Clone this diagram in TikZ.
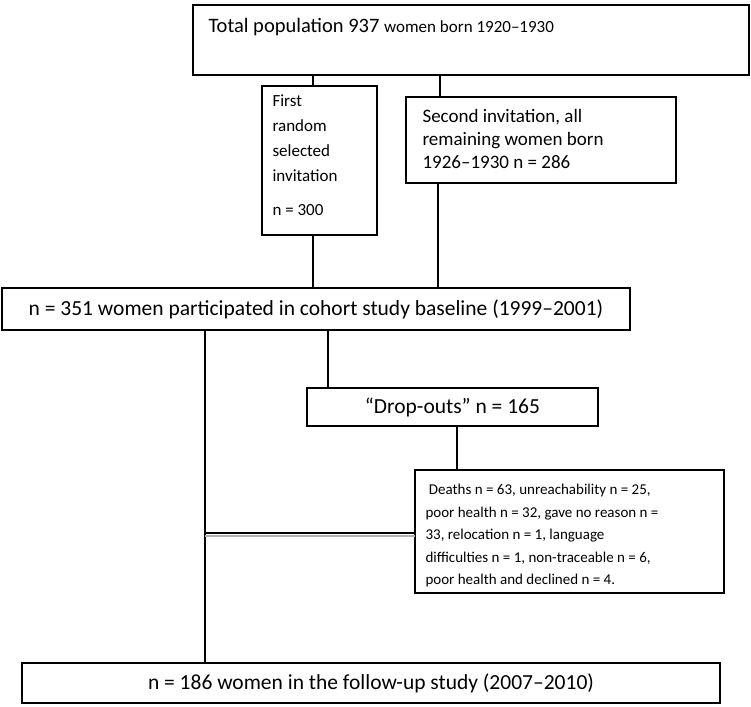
\documentclass[tikz,border=0pt]{standalone}
\usepackage{fontspec}
\setmainfont{Carlito}
\begin{document}
\begin{tikzpicture}[x=1pt,y=-1pt,
  bx/.style={draw,line width=1.3pt,inner sep=0pt,outer sep=0pt},
  ln/.style={line width=1.3pt}]
\useasboundingbox (0,0) rectangle (751,706);
\node[bx,minimum width=556,minimum height=70] (top) at (471,40) {};
\node[anchor=west,font=\fontsize{20.5}{24}\selectfont] at (205,27) {Total population 937 {\fontsize{17}{20}\selectfont women born 1920–1930}};
\node[bx,minimum width=115,minimum height=149] (b1) at (319.5,160.5) {};
\node[anchor=north west,align=left,font=\fontsize{17}{25}\selectfont] at (269,91) {First\\random\\selected\\invitation\\[9pt]n = 300};
\node[bx,minimum width=270,minimum height=86] (b2) at (541,140) {};
\node[anchor=north west,align=left,font=\fontsize{19}{23}\selectfont] at (419,106) {Second invitation, all\\remaining women born\\1926–1930 n = 286};
\node[bx,minimum width=628,minimum height=42,font=\fontsize{21.5}{24}\selectfont] (base) at (316,309) {n = 351 women participated in cohort study baseline (1999–2001)};
\node[bx,minimum width=291,minimum height=38,font=\fontsize{21.5}{24}\selectfont] (drop) at (452.5,407) {“Drop-outs” n = 165};
\node[bx,minimum width=309,minimum height=123] (death) at (569.5,531.5) {};
\node[anchor=north west,align=left,font=\fontsize{15}{22.5}\selectfont] at (422,481) {\ Deaths n = 63, unreachability n = 25,\\poor health n = 32, gave no reason n =\\33, relocation n = 1, language\\difficulties n = 1, non-traceable n = 6,\\poor health and declined n = 4.};
\node[bx,minimum width=698,minimum height=40,font=\fontsize{21.5}{24}\selectfont] (fol) at (371,683) {n = 186 women in the follow-up study (2007–2010)};
\coordinate (t1) at (313,75); \coordinate (t2) at (440,75);
\draw[ln] (t1) -- (313,86);
\draw[ln] (t2) -- (440,97);
\draw[ln] (313,235) -- (313,288);
\draw[ln] (438,183) -- (438,288);
\draw[ln] (328,330) -- (328,388);
\draw[ln] (457,426) -- (457,470);
\draw[ln] (205,330) -- (205,663);
\draw[line width=1.3pt] (205,533) -- (415,533);
\draw[line width=1.3pt,gray!60] (205,536) -- (415,536);
\end{tikzpicture}
\end{document}
